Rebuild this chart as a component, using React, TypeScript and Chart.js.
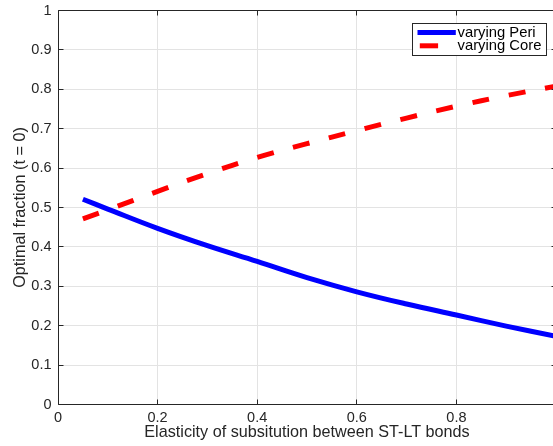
import React, { useEffect, useRef } from 'react';
import { Chart, registerables } from 'chart.js';

Chart.register(...registerables);

const xValues = [0.05, 0.1, 0.2, 0.3, 0.4, 0.5, 0.6, 0.7, 0.8, 0.9, 1.0];
const periValues = [0.521, 0.496, 0.447, 0.403, 0.363, 0.322, 0.286, 0.255, 0.227, 0.199, 0.173];
const coreValues = [0.471, 0.494, 0.541, 0.586, 0.627, 0.662, 0.695, 0.727, 0.757, 0.784, 0.808];
const seriesLabels = ['varying Peri', 'varying Core'];
const seriesColors = ['#0000ff', '#ff0000'];

const xTickValues = [0, 0.2, 0.4, 0.6, 0.8, 1];
const xTickLabels = ['0', '0.2', '0.4', '0.6', '0.8', ''];
const yTickValues = [0, 0.1, 0.2, 0.3, 0.4, 0.5, 0.6, 0.7, 0.8, 0.9, 1];
const yTickLabels = ['0', '0.1', '0.2', '0.3', '0.4', '0.5', '0.6', '0.7', '0.8', '0.9', '1'];

const xTitle = 'Elasticity of subsitution between ST-LT bonds';
const yTitle = 'Optimal fraction (t = 0)';

const FONT = '"Liberation Sans", Arial, Helvetica, sans-serif';
const AXIS_COLOR = '#262626';
const GRID_COLOR = '#e3e3e3';

const framePlugin = {
  id: 'matlabFrame',
  afterDatasetsDraw(chart: any) {
    const { ctx, chartArea, scales } = chart;
    const l = Math.round(chartArea.left) + 0.5;
    const r = Math.round(chartArea.right) + 0.5;
    const t = Math.round(chartArea.top - 0.5) + 0.5;
    const b = Math.round(chartArea.bottom - 0.5) + 0.5;
    ctx.save();
    ctx.strokeStyle = AXIS_COLOR;
    ctx.lineWidth = 1;
    ctx.beginPath();
    ctx.moveTo(l, t); ctx.lineTo(r, t); ctx.lineTo(r, b); ctx.lineTo(l, b); ctx.closePath();
    ctx.stroke();
    const tl = 5;
    ctx.beginPath();
    for (const v of yTickValues) {
      const py = Math.round(scales.y.getPixelForValue(v) - 0.5) + 0.5;
      ctx.moveTo(l, py); ctx.lineTo(l + tl, py);
      ctx.moveTo(r, py); ctx.lineTo(r - tl, py);
    }
    for (const v of xTickValues) {
      const px = Math.round(scales.x.getPixelForValue(v) - 0.5) + 0.5;
      ctx.moveTo(px, b); ctx.lineTo(px, b - tl);
      ctx.moveTo(px, t); ctx.lineTo(px, t + tl);
    }
    ctx.stroke();
    ctx.restore();
  },
};

const legendPlugin = {
  id: 'matlabLegend',
  afterDraw(chart: any) {
    const { ctx, chartArea } = chart;
    const datasets = chart.data.datasets;
    ctx.save();
    ctx.font = `14.8px ${FONT}`;
    const tw = Math.max(...datasets.map((d: any) => ctx.measureText(d.label).width));
    const pad = 5;
    const sample = 38.3;
    const gap = 1.7;
    const w = Math.round(pad + sample + gap + tw + pad);
    const h = 32;
    const x0 = Math.round(chartArea.right - 10.5 - w) + 0.5;
    const y0 = Math.round(chartArea.top + 12) + 0.5;
    ctx.fillStyle = '#ffffff';
    ctx.fillRect(x0, y0, w, h);
    ctx.strokeStyle = AXIS_COLOR;
    ctx.lineWidth = 1;
    ctx.strokeRect(x0, y0, w, h);
    const rows = [y0 + 9, y0 + 22.3];
    datasets.forEach((d: any, i: number) => {
      const ry = rows[i];
      ctx.strokeStyle = d.borderColor;
      ctx.lineWidth = d.borderWidth;
      ctx.lineCap = 'butt';
      ctx.beginPath();
      if (d.borderDash && d.borderDash.length) {
        ctx.moveTo(x0 + 7.3, ry);
        ctx.lineTo(x0 + 25.6, ry);
      } else {
        ctx.moveTo(x0 + pad, ry);
        ctx.lineTo(x0 + pad + sample, ry);
      }
      ctx.stroke();
      ctx.fillStyle = '#000000';
      ctx.textAlign = 'left';
      ctx.textBaseline = 'middle';
      ctx.fillText(d.label, x0 + pad + sample + gap, ry + 0.5);
    });
    ctx.restore();
  },
};

export default function App() {
  const canvasRef = useRef<HTMLCanvasElement | null>(null);

  useEffect(() => {
    const canvas = canvasRef.current;
    if (!canvas) return;
    const chart = new Chart(canvas, {
      type: 'line',
      data: {
        datasets: [
          {
            label: seriesLabels[0],
            data: xValues.map((x, i) => ({ x, y: periValues[i] })),
            borderColor: seriesColors[0],
            backgroundColor: seriesColors[0],
            borderWidth: 5,
            pointRadius: 0,
            tension: 0.4,
            fill: false,
          },
          {
            label: seriesLabels[1],
            data: xValues.map((x, i) => ({ x, y: coreValues[i] })),
            borderColor: seriesColors[1],
            backgroundColor: seriesColors[1],
            borderWidth: 5,
            borderDash: [17, 20],
            borderCapStyle: 'butt',
            pointRadius: 0,
            tension: 0.4,
            fill: false,
          },
        ],
      },
      options: {
        responsive: false,
        animation: false,
        layout: { padding: { top: 10.5, right: 2, left: 0, bottom: 0 } },
        plugins: {
          legend: { display: false },
          tooltip: { enabled: false },
        },
        scales: {
          x: {
            type: 'linear',
            min: 0,
            max: 1,
            afterFit: (s: any) => {
              s.height = 41.5;
              s.paddingLeft = 0;
              s.paddingRight = 0;
            },
            afterBuildTicks: (s: any) => { s.ticks = xTickValues.map((value) => ({ value })); },
            ticks: {
              callback: (_v: any, i: number) => xTickLabels[i],
              font: { family: FONT, size: 14.5 },
              color: AXIS_COLOR,
              padding: 5,
              maxRotation: 0,
              autoSkip: false,
            },
            grid: { color: GRID_COLOR, lineWidth: 1, drawTicks: false },
            border: { display: false },
            title: {
              display: true,
              text: xTitle,
              font: { family: FONT, size: 16.2 },
              color: AXIS_COLOR,
              padding: { top: 0, bottom: 3.5 },
            },
          },
          y: {
            type: 'linear',
            min: 0,
            max: 1,
            afterFit: (s: any) => {
              s.width = 58;
              s.paddingTop = 0;
              s.paddingBottom = 0;
            },
            afterBuildTicks: (s: any) => { s.ticks = yTickValues.map((value) => ({ value })); },
            ticks: {
              callback: (_v: any, i: number) => yTickLabels[i],
              font: { family: FONT, size: 14.5 },
              color: AXIS_COLOR,
              padding: 6.5,
              autoSkip: false,
            },
            grid: { color: GRID_COLOR, lineWidth: 1, drawTicks: false },
            border: { display: false },
            title: {
              display: true,
              text: yTitle,
              font: { family: FONT, size: 16.2 },
              color: AXIS_COLOR,
              padding: { top: 10.5, bottom: 0 },
            },
          },
        },
      },
      plugins: [framePlugin, legendPlugin],
    } as any);
    return () => chart.destroy();
  }, []);

  return (
    <div
      style={{
        position: 'fixed',
        left: 0,
        top: 0,
        width: 553,
        height: 446,
        overflow: 'hidden',
        background: '#ffffff',
      }}
    >
      <canvas ref={canvasRef} width={558} height={446} style={{ display: 'block' }} />
    </div>
  );
}
